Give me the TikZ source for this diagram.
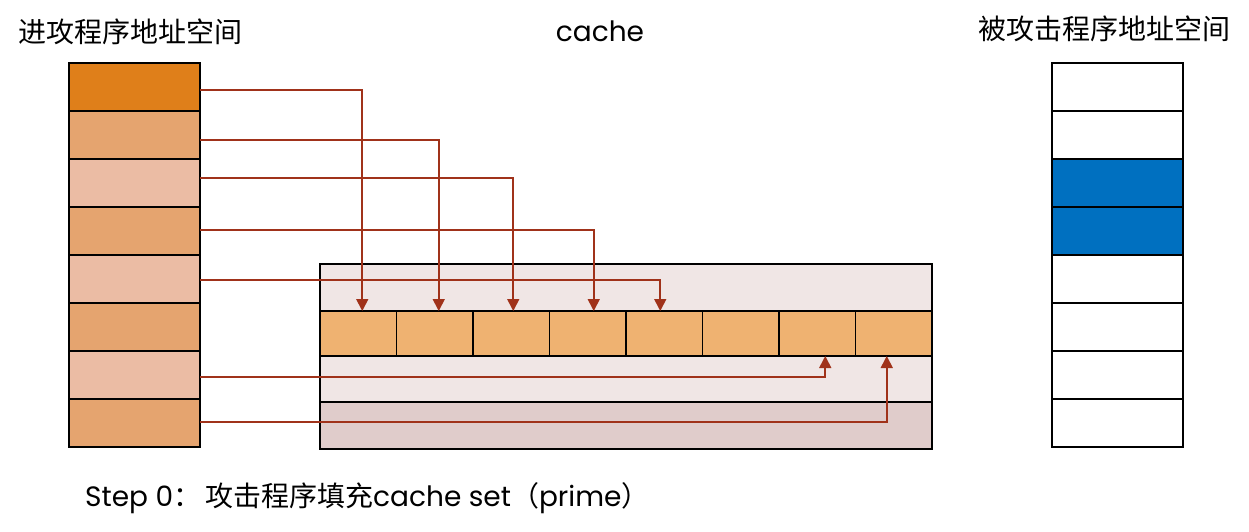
\documentclass[tikz,border=0pt]{standalone}
\usepackage{fontspec}
\setmainfont{Noto Sans CJK SC}
\newfontfamily\latinf{Poppins}
\usetikzlibrary{arrows.meta}
\definecolor{darkor}{HTML}{DF7F1A}
\definecolor{midor}{HTML}{E5A46F}
\definecolor{lightor}{HTML}{EBBCA4}
\definecolor{cacheor}{HTML}{EFB271}
\definecolor{cachebg}{HTML}{F0E6E5}
\definecolor{cachebot}{HTML}{E0CCCB}
\definecolor{arrred}{HTML}{A0321A}
\definecolor{vblue}{HTML}{0070C0}
\tikzset{
  memcell/.style={draw=black, line width=1.6pt, minimum width=131pt, minimum height=48pt, inner sep=0pt, outer sep=0pt},
  ccell/.style={draw=black, line width=1.6pt, fill=cacheor, minimum width=76.5pt, minimum height=45pt, inner sep=0pt, outer sep=0pt},
  crow/.style={draw=black, line width=1.6pt, minimum width=612pt, inner sep=0pt, outer sep=0pt},
  arr/.style={draw=arrred, line width=1.7pt, -{Triangle[width=12pt,length=12pt]}},
  title/.style={font=\fontsize{28}{32}\selectfont, inner sep=0pt}
}
\begin{document}
\begin{tikzpicture}[x=1pt,y=-1pt]
\useasboundingbox (0,0) rectangle (1249,531);
% titles
\node[title] (t1) at (130,32) {进攻程序地址空间};
\node[title] (t2) at (600,31) {\latinf cache};
\node[title] (t3) at (1104,29) {被攻击程序地址空间};
% left column
\node[memcell, fill=darkor]  (L1) at (134.5,87) {};
\node[memcell, fill=midor]   (L2) at (134.5,135) {};
\node[memcell, fill=lightor] (L3) at (134.5,183) {};
\node[memcell, fill=midor]   (L4) at (134.5,231) {};
\node[memcell, fill=lightor] (L5) at (134.5,279) {};
\node[memcell, fill=midor]   (L6) at (134.5,327) {};
\node[memcell, fill=lightor] (L7) at (134.5,375) {};
\node[memcell, fill=midor]   (L8) at (134.5,423) {};
\draw[line width=2.2pt] (L1.north west) rectangle (L8.south east);
% right column
\node[memcell, fill=white] (R1) at (1117.5,87) {};
\node[memcell, fill=white] (R2) at (1117.5,135) {};
\node[memcell, fill=vblue] (R3) at (1117.5,183) {};
\node[memcell, fill=vblue] (R4) at (1117.5,231) {};
\node[memcell, fill=white] (R5) at (1117.5,279) {};
\node[memcell, fill=white] (R6) at (1117.5,327) {};
\node[memcell, fill=white] (R7) at (1117.5,375) {};
\node[memcell, fill=white] (R8) at (1117.5,423) {};
% cache
\node[crow, fill=cachebg, minimum height=47pt] (C1) at (626,287.5) {};
\node[crow, fill=cachebg, minimum height=46pt] (C3) at (626,379) {};
\node[crow, fill=cachebot, minimum height=47pt] (C4) at (626,425.5) {};
\node[ccell] (O1) at (358.25,333.5) {};
\node[ccell] (O2) at (434.75,333.5) {};
\node[ccell] (O3) at (511.25,333.5) {};
\node[ccell] (O4) at (587.75,333.5) {};
\node[ccell] (O5) at (664.25,333.5) {};
\node[ccell] (O6) at (740.75,333.5) {};
\node[ccell] (O7) at (817.25,333.5) {};
\node[ccell] (O8) at (893.75,333.5) {};
\draw[line width=1.8pt] (C1.north west) rectangle (C4.south east);
% arrows
\draw[arr] ([yshift=-3pt]L1.east) -| ([xshift=4pt]O1.north);
\draw[arr] ([yshift=-5pt]L2.east) -| ([xshift=4pt]O2.north);
\draw[arr] ([yshift=5pt]L3.east) -| ([xshift=2pt]O3.north);
\draw[arr] ([yshift=1pt]L4.east) -| ([xshift=6pt]O4.north);
\draw[arr] ([yshift=-1pt]L5.east) -| ([xshift=-4pt]O5.north);
\draw[arr] ([yshift=-2pt]L7.east) -| ([xshift=8pt]O7.south);
\draw[arr] ([yshift=1pt]L8.east) -| ([xshift=-7pt]O8.south);
% caption
\node[title, anchor=west] (cap) at (85,498) {\latinf Step 0\normalfont：\hspace{4pt}攻击程序填充\latinf cache set\normalfont（\latinf prime\normalfont）};
\end{tikzpicture}
\end{document}
